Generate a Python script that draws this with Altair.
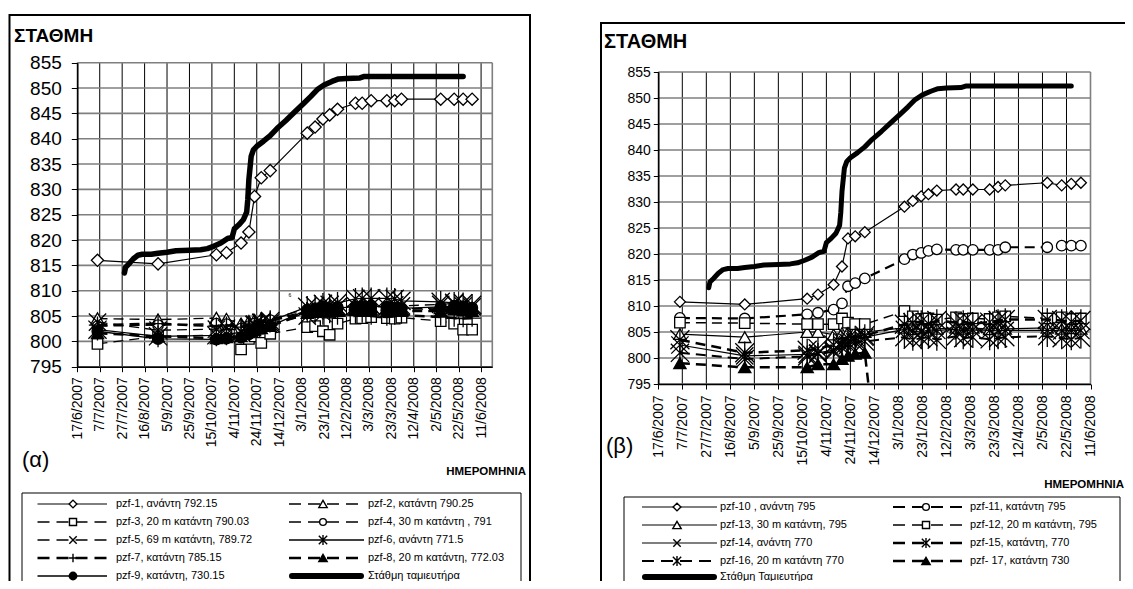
import altair as alt
import pandas as pd

# ---------------- axis ticks ----------------
X_TICK_LABELS = ["17/6/2007", "7/7/2007", "27/7/2007", "16/8/2007", "5/9/2007", "25/9/2007",
                 "15/10/2007", "4/11/2007", "24/11/2007", "14/12/2007", "3/1/2008", "23/1/2008",
                 "12/2/2008", "3/3/2008", "23/3/2008", "12/4/2008", "2/5/2008", "22/5/2008", "11/6/2008"]
Y_TICKS = [795, 800, 805, 810, 815, 820, 825, 830, 835, 840, 845, 850, 855]

# ---------------- measurement dates ----------------
DATES = ["2007/07/05", "2007/08/28", "2007/10/19", "2007/10/28", "2007/11/10", "2007/11/17",
         "2007/11/22", "2007/11/28", "2007/12/06", "2008/01/08", "2008/01/15", "2008/01/22",
         "2008/01/28", "2008/02/04", "2008/02/20", "2008/02/26", "2008/03/05", "2008/03/19",
         "2008/03/26", "2008/04/01", "2008/05/06", "2008/05/18", "2008/05/26", "2008/06/03"]

# ---------------- reservoir level ----------------
RES_DATES = ["2007/07/29", "2007/07/30", "2007/08/02", "2007/08/06", "2007/08/10", "2007/08/14",
             "2007/08/22", "2007/08/28", "2007/09/05", "2007/09/13", "2007/09/25", "2007/10/05",
             "2007/10/11", "2007/10/17", "2007/10/23", "2007/10/29", "2007/11/02", "2007/11/04",
             "2007/11/08", "2007/11/12", "2007/11/15", "2007/11/16", "2007/11/17", "2007/11/19",
             "2007/11/21", "2007/11/24", "2007/11/30", "2007/12/06", "2007/12/12", "2007/12/20",
             "2007/12/28", "2008/01/05", "2008/01/11", "2008/01/17", "2008/01/23", "2008/01/30",
             "2008/02/05", "2008/02/12", "2008/02/24", "2008/02/28", "2008/04/12", "2008/05/26"]
RES_LEVEL = [813.5, 814.6, 815.3, 816.3, 817.0, 817.2,
             817.2, 817.4, 817.6, 817.9, 818.0, 818.1,
             818.3, 818.8, 819.4, 820.3, 820.5, 822.2,
             823.0, 824.0, 825.5, 828.0, 832.0, 836.5,
             837.8, 838.5, 839.5, 840.6, 842.0, 843.6,
             845.3, 847.0, 848.3, 849.7, 850.6, 851.3,
             851.8, 851.9, 852.0, 852.3, 852.3, 852.3]

# ---------------- panel (α) piezometers ----------------
PZF1 = [816.0, 815.3, 817.1, 817.5, 819.4, 821.6, 828.6, 832.3, 833.7, 841.1, 842.3, 843.9,
        844.7, 845.8, 847.0, 847.0, 847.5, 847.5, 847.5, 847.8, 847.8, 847.8, 847.8, 847.8]
PZF2 = [804.5, 804.3, 804.6, 804.4, 803.5, 804.0, 804.2, 804.5, 804.3, 806.5, 806.2, 806.6,
        807.0, 806.3, 806.5, 807.0, 806.8, 806.5, 806.2, 806.4, 806.6, 806.8, 806.5, 806.6]
PZF3 = [799.5, 801.0, 801.2, 801.3, 798.4, 800.5, 801.0, 799.7, 801.5, 802.8, 803.0, 802.0,
        801.3, 803.5, 804.5, 804.6, 804.8, 804.6, 804.5, 804.7, 804.0, 803.5, 802.3, 802.3]
PZF4 = [803.0, 803.2, 803.5, 803.4, 802.5, 803.0, 803.5, 804.0, 804.2, 806.0, 806.2, 806.5,
        806.3, 806.8, 806.4, 806.6, 806.5, 806.8, 806.5, 806.4, 806.3, 806.5, 806.2, 805.9]
PZF5 = [803.8, 802.2, 802.4, 802.6, 802.0, 802.8, 803.4, 803.8, 803.6, 805.0, 806.0, 805.5,
        806.5, 806.8, 807.0, 806.5, 807.0, 806.8, 807.2, 807.0, 807.3, 807.5, 807.0, 806.8]
PZF6 = [802.3, 801.0, 801.2, 801.4, 801.8, 802.6, 803.2, 803.6, 804.0, 806.8, 807.0, 807.4,
        807.2, 807.6, 808.4, 808.5, 808.5, 808.5, 808.4, 808.0, 807.8, 807.6, 807.5, 807.2]
PZF7 = [803.2, 803.5, 803.0, 803.2, 802.8, 803.2, 803.6, 804.0, 804.2, 805.5, 805.2, 805.0,
        805.3, 805.0, 805.2, 805.4, 805.0, 804.8, 805.0, 805.2, 804.8, 804.6, 804.5, 804.6]
PZF8 = [801.6, 801.0, 800.6, 800.8, 801.0, 801.8, 802.2, 802.6, 803.0, 805.6, 805.8, 806.0,
        805.7, 806.0, 806.2, 806.0, 806.3, 806.0, 806.2, 806.0, 806.0, 806.3, 806.1, 806.0]
PZF9 = [802.0, 800.5, 800.4, 800.6, 800.8, 801.4, 802.0, 802.5, 803.0, 806.2, 806.5, 806.8,
        806.4, 806.6, 806.8, 806.9, 807.0, 806.8, 806.6, 806.5, 806.8, 807.0, 806.9, 806.6]

# ---------------- panel (β) piezometers ----------------
PZF10 = [810.8, 810.3, 811.4, 812.2, 814.1, 817.6, 823.0, 823.4, 824.2, 829.1, 830.2, 831.1,
         831.5, 832.2, 832.4, 832.4, 832.4, 832.4, 832.9, 833.2, 833.7, 833.2, 833.5, 833.7]
PZF11 = [807.7, 807.6, 808.4, 808.7, 809.3, 810.5, 813.8, 814.4, 815.3, 819.0, 819.9, 820.2,
         820.6, 820.9, 820.8, 820.8, 820.8, 820.8, 820.8, 821.3, 821.3, 821.6, 821.6, 821.6]
PZF12 = [806.8, 806.7, 806.5, 806.5, 806.5, 807.6, 806.8, 806.5, 806.5, 809.0, 808.0, 807.5,
         807.6, 807.4, 807.8, 807.5, 807.6, 807.5, 807.8, 808.0, 807.6, 807.8, 807.5, 807.6]
PZF13 = [804.6, 804.0, 805.0, 805.0, 804.5, 804.8, 805.0, 805.2, 805.0, 805.8, 805.5, 805.8,
         806.0, 805.6, 805.8, 805.6, 805.8, 805.5, 805.8, 805.6, 805.8, 805.6, 805.7, 805.6]
PZF14 = [802.5, 800.4, 800.7, 801.0, 801.5, 802.5, 803.0, 803.5, 804.0, 805.5, 805.2, 805.0,
         805.4, 805.3, 805.5, 805.2, 805.4, 805.3, 805.2, 805.3, 805.3, 805.2, 805.3, 805.3]
PZF15 = [803.5, 801.0, 801.5, 801.8, 802.5, 803.2, 803.8, 804.0, 804.3, 806.5, 806.8, 807.0,
         806.6, 807.2, 806.8, 807.0, 806.6, 806.9, 807.2, 807.4, 807.4, 807.2, 807.0, 807.2]
PZF16 = [801.0, 799.8, 800.3, 800.8, 801.2, 802.0, 802.5, 803.0, 803.2, 804.0, 803.5, 803.8,
         804.0, 803.5, 804.2, 803.8, 804.0, 803.6, 803.8, 804.0, 804.2, 803.8, 803.6, 803.9]
PZF17_DATES = ["2007/07/05", "2007/08/28", "2007/10/19", "2007/10/28", "2007/11/10",
               "2007/11/17", "2007/11/22", "2007/11/28", "2007/12/06", "2007/12/09"]
PZF17 = [799.0, 798.2, 798.2, 798.8, 798.8, 799.8, 800.4, 800.8, 801.0, 770.0]

LABELS_A = ["pzf-1, ανάντη 792.15", "pzf-2, κατάντη 790.25", "pzf-3, 20 m  κατάντη 790.03",
            "pzf-4, 30 m κατάντη , 791", "pzf-5, 69 m κατάντη, 789.72", "pzf-6,  ανάντη 771.5",
            "pzf-7, κατάντη 785.15", "pzf-8, 20 m κατάντη, 772.03", "pzf-9, κατάντη, 730.15",
            "Στάθμη ταμιευτήρα"]
LABELS_B = ["pzf-10 , ανάντη 795", "pzf-11, κατάντη 795", "pzf-13, 30 m  κατάντη, 795",
            "pzf-12, 20 m  κατάντη, 795", "pzf-14, ανάντη 770", "pzf-15, κατάντη, 770",
            "pzf-16, 20 m  κατάντη 770", "pzf- 17, κατάντη 730", "Στάθμη Ταμιευτήρα"]

# ---------------- styles ----------------
FONT = "Liberation Sans"
W, H, M = 1117, 573, 8
X_PATH = "M-1,-1L1,1M-1,1L1,-1"
STAR_PATH = "M-1,-1L1,1M-1,1L1,-1M0,-1.2L0,1.2"
PLUS_PATH = "M-1,0L1,0M0,-1L0,1"
MK = {
    "diamond": ("diamond", "white"), "tri": ("triangle-up", "white"), "square": ("square", "white"),
    "circle": ("circle", "white"), "x": (X_PATH, None), "star": (STAR_PATH, None),
    "plus": (PLUS_PATH, None), "ftri": ("triangle-up", "black"), "fcircle": ("circle", "black"),
}
DASH = [10, 6]


def px(v):
    return v - M


def to_dt(s):
    d, m, y = (int(t) for t in s.split("/"))
    return alt.DateTime(year=y, month=m, date=d)


def to_iso(s):
    d, m, y = (int(t) for t in s.split("/"))
    return f"{y}/{m:02d}/{d:02d}"


ONE = pd.DataFrame({"k": [0]})


def point_mark(kind, size, sw=1.3):
    shape, fill = MK[kind]
    if fill is None:
        return dict(shape=shape, filled=False, color="black", stroke="black", strokeWidth=sw, size=size, opacity=1)
    return dict(shape=shape, filled=True, fill=fill, stroke="black", strokeWidth=sw, size=size,
                opacity=1, fillOpacity=1)


def line_props(lw, dash):
    p = dict(color="black", strokeWidth=lw, strokeJoin="round")
    if dash:
        p["strokeDash"] = dash
    return p


def panel(P, series, labels, legend):
    xs = alt.Scale(domain=[to_dt(P["xdom"][0]), to_dt(P["xdom"][1])], range=[px(P["x0"]), px(P["x1"])])
    ys = alt.Scale(domain=[795, 855], range=[px(P["y1"]), px(P["y0"])], clamp=True)
    L = []
    bx = P["box"]
    L.append(alt.Chart(ONE).mark_rect(fill="white", stroke="black", strokeWidth=2).encode(
        x=alt.value(px(bx[0])), x2=alt.value(px(bx[1])), y=alt.value(px(bx[2])), y2=alt.value(px(bx[3]))))
    # vertical grid + x axis
    vg = pd.DataFrame({"d": [to_iso(s) for s in X_TICK_LABELS]})
    xaxis = alt.Axis(orient="bottom", offset=px(P["y1"]) - H, values=[to_dt(s) for s in X_TICK_LABELS],
                     format="%-d/%-m/%Y", formatType="time", labelAngle=270, labelAlign="right",
                     labelBaseline="middle", labelFont=FONT, labelFontSize=P["xlab"], labelColor="black",
                     tickColor="black", tickSize=5, tickWidth=1, labelPadding=P["xpad"], domainColor="black",
                     domainWidth=1.5, grid=False, title=None, labelOverlap=False, labelFlush=False, zindex=1)
    L.append(alt.Chart(vg).mark_rule(color="black", strokeWidth=1).encode(
        x=alt.X("d:T", scale=xs, axis=xaxis),
        y=alt.YDatum(855, type="quantitative", scale=ys, axis=None), y2=alt.Y2Datum(795)))
    # horizontal grid + y axis
    hg = pd.DataFrame({"v": Y_TICKS})
    yaxis = alt.Axis(orient="left", offset=-px(P["x0"]), values=Y_TICKS, format="d", labelFont=FONT,
                     labelFontSize=P["ylab"], labelColor="black", tickColor="black", tickSize=P["ytick"],
                     labelPadding=P["ypad"], domainColor="black", domainWidth=1.5, grid=False, title=None,
                     labelOverlap=False, labelFlush=False, zindex=1)
    L.append(alt.Chart(hg).mark_rule(color="#7f7f7f", strokeWidth=1.6).encode(
        y=alt.Y("v:Q", scale=ys, axis=yaxis),
        x=alt.XDatum(to_dt(P["xdom"][0]), type="temporal", scale=xs, axis=None),
        x2=alt.X2Datum(to_dt(P["xdom"][1]))))
    L.append(alt.Chart(ONE).mark_rule(color="#7f7f7f", strokeWidth=1.6).encode(
        x=alt.XDatum(to_dt(P["xdom"][1]), type="temporal", scale=xs, axis=None),
        y=alt.YDatum(855, type="quantitative", scale=ys, axis=None), y2=alt.Y2Datum(795)))
    # data series
    for dates, vals, kind, size, lw, dash in series:
        df = pd.DataFrame({"d": dates, "v": vals})
        enc = dict(x=alt.X("d:T", scale=xs, axis=None), y=alt.Y("v:Q", scale=ys, axis=None))
        L.append(alt.Chart(df).mark_line(**line_props(lw, dash)).encode(**enc))
        L.append(alt.Chart(df).transform_filter("datum.v >= 795").mark_point(**point_mark(kind, size)).encode(**enc))
    rdf = pd.DataFrame({"d": RES_DATES, "v": RES_LEVEL})
    L.append(alt.Chart(rdf).mark_line(color="black", strokeWidth=P["reslw"], strokeCap="round",
                                      strokeJoin="round").encode(
        x=alt.X("d:T", scale=xs, axis=None), y=alt.Y("v:Q", scale=ys, axis=None)))
    # texts
    tx, ty, ts = P["title"]
    L.append(alt.Chart(ONE).mark_text(text="ΣΤΑΘΜΗ", font=FONT, fontSize=ts, fontWeight="bold",
                                      align="left", baseline="alphabetic", color="black").encode(
        x=alt.value(px(tx)), y=alt.value(px(ty))))
    t, gx, gy, gs = P["tag"]
    L.append(alt.Chart(ONE).mark_text(text=t, font=FONT, fontSize=gs, align="left", baseline="alphabetic",
                                      color="black").encode(x=alt.value(px(gx)), y=alt.value(px(gy))))
    dx, dy, ds = P["dlab"]
    L.append(alt.Chart(ONE).mark_text(text="ΗΜΕΡΟΜΗΝΙΑ", font=FONT, fontSize=ds, fontWeight="bold",
                                      align="right", baseline="alphabetic", color="black").encode(
        x=alt.value(px(dx)), y=alt.value(px(dy))))
    # legend
    lb = legend["box"]
    L.append(alt.Chart(ONE).mark_rect(fill="white", stroke="black", strokeWidth=1).encode(
        x=alt.value(px(lb[0])), x2=alt.value(px(lb[1])), y=alt.value(px(lb[2])), y2=alt.value(px(lb[3]))))
    entries = [(s[2], s[4], s[5]) for s in series] + [("res", None, None)]
    for i, (lab, ent) in enumerate(zip(labels, entries)):
        r, c = divmod(i, 2)
        col = legend["cols"][c]
        yy = px(legend["rows"][r])
        kind, lw, dash = ent
        if kind == "res":
            L.append(alt.Chart(ONE).mark_rule(color="black", strokeWidth=6, strokeCap="round").encode(
                x=alt.value(px(col["l0"] + 3)), x2=alt.value(px(col["l1"] - 3)), y=alt.value(yy)))
        else:
            L.append(alt.Chart(ONE).mark_rule(**line_props(lw, legend["dash"] if dash else None)).encode(
                x=alt.value(px(col["l0"])), x2=alt.value(px(col["l1"])), y=alt.value(yy)))
            L.append(alt.Chart(ONE).mark_point(**point_mark(kind, legend["msize"][kind], 1.4)).encode(
                x=alt.value(px(col["m"])), y=alt.value(yy)))
        L.append(alt.Chart(ONE).mark_text(text=lab, font=FONT, fontSize=11, align="left", baseline="middle",
                                          color="black").encode(x=alt.value(px(col["t"])), y=alt.value(yy)))
    return L


MSIZE = {"diamond": 60, "tri": 70, "square": 50, "circle": 45, "x": 55, "star": 70, "plus": 70,
         "ftri": 70, "fcircle": 55}

PA = dict(xdom=("17/6/2007", "21/6/2008"), x0=77.3, x1=492.3, y0=62.7, y1=366.7, box=(9.5, 530, 15, 640),
          xlab=14, xpad=5, ylab=19, ytick=6, ypad=10, reslw=5.5, title=(14, 42, 19),
          tag=("(α)", 22, 467, 22), dlab=(526, 475, 11.5))
PB = dict(xdom=("17/6/2007", "11/6/2008"), x0=658.3, x1=1090.5, y0=72, y1=384, box=(601, 1160, 23, 640),
          xlab=14, xpad=6, ylab=14, ytick=5, ypad=3, reslw=5, title=(604, 48, 20),
          tag=("(β)", 606, 453, 22), dlab=(1124, 488, 11.5))

SER_A = [
    (DATES, PZF1, "diamond", 150, 1.2, None),
    (DATES, PZF2, "tri", 170, 1.3, DASH),
    (DATES, PZF3, "square", 110, 1.3, DASH),
    (DATES, PZF4, "circle", 110, 1.3, DASH),
    (DATES, PZF5, "x", 300, 1.3, DASH),
    (DATES, PZF6, "star", 330, 1.3, None),
    (DATES, PZF7, "plus", 300, 2.5, DASH),
    (DATES, PZF8, "ftri", 150, 2.5, DASH),
    (DATES, PZF9, "fcircle", 120, 1.3, None),
]
SER_B = [
    (DATES, PZF10, "diamond", 120, 1.2, None),
    (DATES, PZF11, "circle", 110, 2.2, DASH),
    (DATES, PZF13, "tri", 150, 1.2, None),
    (DATES, PZF12, "square", 110, 1.5, DASH),
    (DATES, PZF14, "x", 300, 1.2, None),
    (DATES, PZF15, "star", 360, 2.5, DASH),
    (DATES, PZF16, "star", 330, 2.0, DASH),
    (PZF17_DATES, PZF17, "ftri", 150, 2.5, DASH),
]
LEG_A = dict(box=(22, 521, 493, 640), rows=[504, 522, 540, 558, 576], dash=[12, 7], msize=MSIZE,
             cols=[dict(l0=37.5, l1=107, m=73, t=116), dict(l0=289, l1=364, m=323, t=368)])
LEG_B = dict(box=(624, 1120, 497, 640), rows=[507, 525, 543, 561, 577], dash=[12, 7], msize=MSIZE,
             cols=[dict(l0=642, l1=717, m=677, t=720), dict(l0=893, l1=966, m=926, t=970)])

layers = panel(PA, SER_A, LABELS_A, LEG_A) + panel(PB, SER_B, LABELS_B, LEG_B)
layers.append(alt.Chart(ONE).mark_text(text="6", font=FONT, fontSize=5, color="black").encode(
    x=alt.value(px(290)), y=alt.value(px(295))))

chart = alt.layer(*layers).resolve_scale(x="independent", y="independent").properties(
    width=W, height=H, autosize=alt.AutoSizeParams(type="none"), padding=0
).configure_view(strokeWidth=0)

chart.save("out.html", embed_options={"renderer": "svg", "actions": False})
